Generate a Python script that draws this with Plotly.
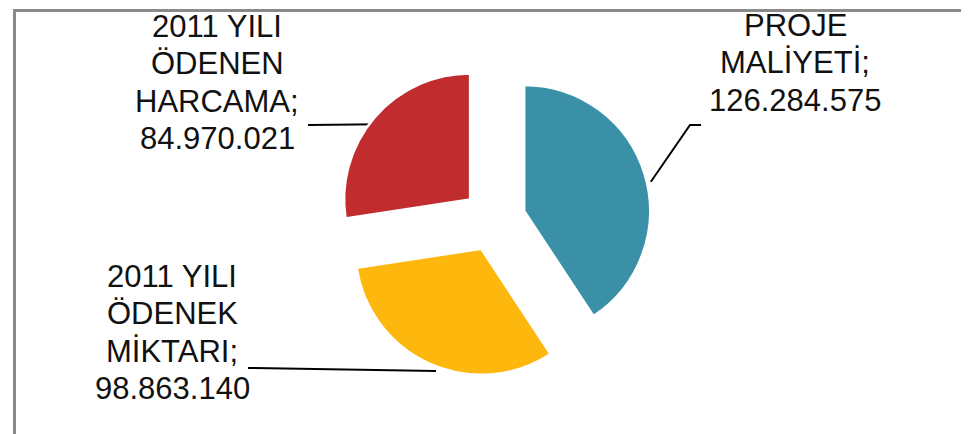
import math
import plotly.graph_objects as go

labels = ["PROJE MALİYETİ", "2011 YILI ÖDENEK MİKTARI", "2011 YILI ÖDENEN HARCAMA"]
label_lines = [["PROJE", "MALİYETİ;", "126.284.575"],
               ["2011 YILI", "ÖDENEK", "MİKTARI;", "98.863.140"],
               ["2011 YILI", "ÖDENEN", "HARCAMA;", "84.970.021"]]
values = [126284575, 98863140, 84970021]
colors = ["#3A91A7", "#FDB70D", "#C12C2E"]

W, H = 969, 434
CX, CY = 492, 219          # visual pie centre (px)
DOM_DX, DOM_DY = -6, -7    # correction between domain centre and drawn centre
PULL = 0.25
R = 126                    # slice radius (px)
half = R * (1 + PULL)

FS = 31
# label placement: centre x and first baseline (px); line step
label_x = [787, 164, 209]
label_base = [35, 286, 36]
STEP = 37.5
leader_ends = [[(693, 117), (682, 117)], [(240, 360)], [(300, 117)]]

fig = go.Figure()
dcx, dcy = CX + DOM_DX, CY + DOM_DY
fig.add_trace(go.Pie(
    labels=labels, values=values, sort=False, direction="clockwise", rotation=0,
    pull=[PULL] * 3, textinfo="none", hoverinfo="label+value",
    marker=dict(colors=colors, line=dict(color="white", width=2.5)),
    domain=dict(x=[(dcx - half) / W, (dcx + half) / W], y=[1 - (dcy + half) / H, 1 - (dcy - half) / H]),
    showlegend=False,
))

total = sum(values)
cum = 0
for i, v in enumerate(values):
    mid = (cum + v / 2) / total * 2 * math.pi
    cum += v
    dist = PULL * R + R
    sx = CX + dist * math.sin(mid)
    sy = CY - dist * math.cos(mid)
    pts = [(sx, sy)] + leader_ends[i][::-1]
    fig.add_trace(go.Scatter(x=[p[0] for p in pts], y=[p[1] for p in pts], mode="lines",
                             line=dict(color="black", width=2), hoverinfo="skip", showlegend=False))
    for k, line in enumerate(label_lines[i]):
        base = label_base[i] + k * STEP
        fig.add_annotation(x=label_x[i], y=base - 0.58 * FS, xref="x", yref="y",
                           text=line, showarrow=False, xanchor="center", yanchor="middle",
                           font=dict(family="Liberation Sans, Arial", size=FS, color="#111111"))

# frame
fig.add_shape(type="line", x0=5, x1=W, y0=2.5, y1=2.5, xref="x", yref="y", line=dict(color="#8a8a8a", width=3))
fig.add_shape(type="line", x0=6.5, x1=6.5, y0=1, y1=433, xref="x", yref="y", line=dict(color="#8a8a8a", width=3))
fig.add_shape(type="line", x0=6, x1=W, y0=432.5, y1=432.5, xref="x", yref="y", line=dict(color="#d6d6d6", width=2))

fig.update_layout(
    width=W, height=H, margin=dict(l=0, r=0, t=0, b=0),
    paper_bgcolor="white", plot_bgcolor="rgba(0,0,0,0)",
    xaxis=dict(range=[0, W], visible=False, fixedrange=True),
    yaxis=dict(range=[H, 0], visible=False, fixedrange=True),
)
fig.write_html("out.html")
